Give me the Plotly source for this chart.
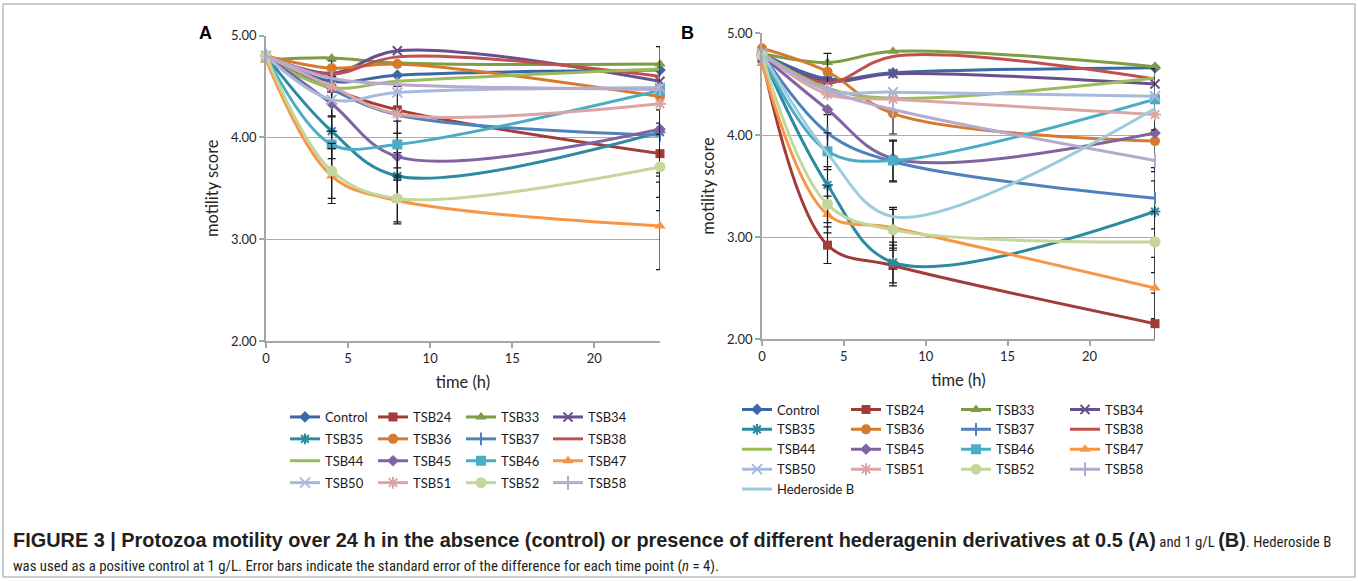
import plotly.graph_objects as go

W, H = 1358, 581

TIME = [0, 4, 8, 24]
X_TICKS = [0, 5, 10, 15, 20]
Y_TICKS = [2, 3, 4, 5]
Y_TICK_TEXT = ["2.00", "3.00", "4.00", "5.00"]

SERIES_A = ["Control", "TSB24", "TSB33", "TSB34", "TSB35", "TSB36", "TSB37", "TSB38",
            "TSB44", "TSB45", "TSB46", "TSB47", "TSB50", "TSB51", "TSB52", "TSB58"]
SERIES_B = SERIES_A + ["Hederoside B"]

# Panel A (0.5 g/L) motility scores at 0, 4, 8, 24 h
A_CONTROL = [4.80, 4.55, 4.61, 4.66]
A_TSB24 = [4.79, 4.48, 4.27, 3.84]
A_TSB33 = [4.76, 4.78, 4.73, 4.72]
A_TSB34 = [4.80, 4.63, 4.85, 4.55]
A_TSB35 = [4.80, 4.06, 3.62, 4.05]
A_TSB36 = [4.80, 4.68, 4.72, 4.40]
A_TSB37 = [4.80, 4.47, 4.22, 4.02]
A_TSB38 = [4.78, 4.62, 4.79, 4.60]
A_TSB44 = [4.78, 4.49, 4.55, 4.67]
A_TSB45 = [4.80, 4.33, 3.81, 4.08]
A_TSB46 = [4.80, 3.93, 3.93, 4.46]
A_TSB47 = [4.76, 3.62, 3.38, 3.13]
A_TSB50 = [4.80, 4.37, 4.44, 4.49]
A_TSB51 = [4.80, 4.50, 4.23, 4.33]
A_TSB52 = [4.80, 3.67, 3.40, 3.71]
A_TSB58 = [4.80, 4.58, 4.52, 4.47]

# Panel B (1 g/L)
B_CONTROL = [4.80, 4.55, 4.61, 4.66]
B_TSB24 = [4.75, 2.92, 2.72, 2.15]
B_TSB33 = [4.80, 4.71, 4.82, 4.67]
B_TSB34 = [4.78, 4.53, 4.60, 4.50]
B_TSB35 = [4.78, 3.51, 2.75, 3.25]
B_TSB36 = [4.85, 4.62, 4.21, 3.94]
B_TSB37 = [4.80, 4.02, 3.74, 3.38]
B_TSB38 = [4.80, 4.51, 4.77, 4.55]
B_TSB44 = [4.80, 4.46, 4.36, 4.56]
B_TSB45 = [4.78, 4.25, 3.77, 4.02]
B_TSB46 = [4.78, 3.84, 3.75, 4.35]
B_TSB47 = [4.70, 3.22, 3.09, 2.50]
B_TSB50 = [4.80, 4.44, 4.42, 4.38]
B_TSB51 = [4.80, 4.40, 4.35, 4.20]
B_TSB52 = [4.78, 3.32, 3.07, 2.95]
B_TSB58 = [4.78, 4.44, 4.25, 3.75]
B_HEDEROSIDE = [4.80, 3.82, 3.20, 4.26]

# standard error of the difference per time point
SED_A = [0, 0.27, 0.23, 0.43]
SED_B = [0, 0.18, 0.20, 0.30]
ERR_SERIES_A = ["TSB24", "TSB35", "TSB45", "TSB46", "TSB47", "TSB52"]
ERR_SERIES_B = ["TSB24", "TSB35", "TSB36", "TSB37", "TSB46", "TSB47", "TSB52"]

VALUES_A = [A_CONTROL, A_TSB24, A_TSB33, A_TSB34, A_TSB35, A_TSB36, A_TSB37, A_TSB38,
            A_TSB44, A_TSB45, A_TSB46, A_TSB47, A_TSB50, A_TSB51, A_TSB52, A_TSB58]
VALUES_B = [B_CONTROL, B_TSB24, B_TSB33, B_TSB34, B_TSB35, B_TSB36, B_TSB37, B_TSB38,
            B_TSB44, B_TSB45, B_TSB46, B_TSB47, B_TSB50, B_TSB51, B_TSB52, B_TSB58,
            B_HEDEROSIDE]

STYLE = {
    "Control": ("#3C69A5", "diamond", 9),
    "TSB24": ("#A23C39", "square", 9),
    "TSB33": ("#7E9C42", "triangle-up", 10),
    "TSB34": ("#68508E", "x-thin-open", 9),
    "TSB35": ("#2E8AA0", "asterisk-open", 9),
    "TSB36": ("#D67B2E", "circle", 10),
    "TSB37": ("#4F81BD", "line-ns-open", 9),
    "TSB38": ("#C0504D", None, 0),
    "TSB44": ("#9BBB59", None, 0),
    "TSB45": ("#8064A2", "diamond", 9),
    "TSB46": ("#4BACC6", "square", 10),
    "TSB47": ("#F79646", "triangle-up", 10),
    "TSB50": ("#A7BADB", "x-thin-open", 10),
    "TSB51": ("#DBA5A4", "asterisk-open", 10),
    "TSB52": ("#C3D69B", "circle", 11),
    "TSB58": ("#B7A8CE", "line-ns-open", 10),
    "Hederoside B": ("#9BCCDC", None, 0),
}

FONT = "Lato"
GRID = "#ABABAB"

fig = go.Figure()


def add_panel(names, values, sed, err_series, xa, ya, legend_ids):
    for i, (name, vals) in enumerate(zip(names, values)):
        color, sym, size = STYLE[name]
        col = i % 4
        tr = dict(
            x=TIME, y=vals, name=name, xaxis=xa, yaxis=ya,
            mode="lines+markers" if sym else "lines",
            line=dict(color=color, width=3, shape="spline", smoothing=1.0),
            legend=legend_ids[col], legendgroup=f"{xa}{name}",
            cliponaxis=False,
        )
        if sym:
            lw = 2 if "open" in sym else 0
            tr["marker"] = dict(symbol=sym, size=size, color=color,
                                line=dict(color=color, width=lw))
        if name in err_series:
            tr["error_y"] = dict(type="data", array=sed, symmetric=True,
                                 color="#1A1A1A", thickness=1.2, width=4)
        fig.add_trace(go.Scatter(**tr))


add_panel(SERIES_A, VALUES_A, SED_A, ERR_SERIES_A, "x", "y",
          ["legend", "legend2", "legend3", "legend4"])
add_panel(SERIES_B, VALUES_B, SED_B, ERR_SERIES_B, "x2", "y2",
          ["legend5", "legend6", "legend7", "legend8"])


def px_x(p):
    return p / W


def px_y(p):
    return 1 - p / H


axis_common = dict(
    showline=True, linecolor="#A6A6A6", linewidth=1.5,
    ticks="outside", ticklen=5, tickcolor="#A6A6A6", tickwidth=1.5,
    tickfont=dict(family=FONT, size=13, color="#262626"),
    zeroline=False,
)
title_font = dict(family=FONT, size=16.5, color="#262626")

xdom_a = [px_x(266), px_x(660)]
xdom_b = [px_x(762), px_x(1155)]
ydom_a = [px_y(341), px_y(35.5)]
ydom_b = [px_y(339), px_y(33)]

fig.update_layout(
    width=W, height=H,
    margin=dict(l=0, r=0, t=0, b=0, autoexpand=False),
    paper_bgcolor="white", plot_bgcolor="white",
    xaxis=dict(domain=xdom_a, range=[0, 24], tickvals=X_TICKS, showgrid=False,
               anchor="y", title=dict(text="time (h)", font=title_font, standoff=11),
               **axis_common),
    yaxis=dict(domain=ydom_a, range=[2, 5], tickvals=Y_TICKS, ticktext=Y_TICK_TEXT,
               showgrid=True, gridcolor=GRID, gridwidth=1.2, anchor="x",
               title=dict(text="motility score", font=title_font, standoff=8),
               **axis_common),
    xaxis2=dict(domain=xdom_b, range=[0, 24], tickvals=X_TICKS, showgrid=False,
                anchor="y2", title=dict(text="time (h)", font=title_font, standoff=11),
                **axis_common),
    yaxis2=dict(domain=ydom_b, range=[2, 5], tickvals=Y_TICKS, ticktext=Y_TICK_TEXT,
                showgrid=True, gridcolor=GRID, gridwidth=1.2, anchor="x2",
                title=dict(text="motility score", font=title_font, standoff=8),
                **axis_common),
)

# legends: 4 columns per panel
leg_cols_a = [292, 380, 468, 555]
leg_cols_b = [744, 853, 963, 1072]
for k, cx in enumerate(leg_cols_a):
    key = "legend" if k == 0 else f"legend{k + 1}"
    fig.update_layout({key: dict(x=px_x(cx - 7), y=px_y(402), xanchor="left", yanchor="top",
                                 bgcolor="rgba(0,0,0,0)", borderwidth=0, tracegroupgap=2,
                                 itemwidth=30,
                                 font=dict(family=FONT, size=13, color="#1A1A1A"))})
for k, cx in enumerate(leg_cols_b):
    key = f"legend{k + 5}"
    fig.update_layout({key: dict(x=px_x(cx - 7), y=px_y(394.5), xanchor="left", yanchor="top",
                                 bgcolor="rgba(0,0,0,0)", borderwidth=0, tracegroupgap=0,
                                 itemwidth=30,
                                 font=dict(family=FONT, size=13, color="#1A1A1A"))})

CAP_FONT = "Liberation Sans"
COND = "Roboto Condensed, Roboto"
NARROW = f"font-family:{COND};font-size:14.8px"
annotations = [
    dict(text="<b>A</b>", x=px_x(205), y=px_y(33), xref="paper", yref="paper",
         xanchor="center", yanchor="middle",
         showarrow=False, font=dict(family=CAP_FONT, size=18, color="black")),
    dict(text="<b>B</b>", x=px_x(687), y=px_y(33), xref="paper", yref="paper",
         xanchor="center", yanchor="middle",
         showarrow=False, font=dict(family=CAP_FONT, size=18, color="black")),
    dict(text="<b>FIGURE 3 | Protozoa motility over 24 h in the absence (control) or presence of different "
              "hederagenin derivatives at 0.5 (A)</b>"
              f"<span style='{NARROW}'> and 1 g/L </span><b>(B)</b>"
              f"<span style='{NARROW}'>. Hederoside B</span>",
         x=px_x(11), y=px_y(540), xref="paper", yref="paper", xanchor="left", yanchor="middle",
         showarrow=False, font=dict(family=CAP_FONT, size=19.9, color="#231F20")),
    dict(text="was used as a positive control at 1 g/L. Error bars indicate the "
              "standard error of the difference for each time point (<i>n</i> = 4).",
         x=px_x(11), y=px_y(566), xref="paper", yref="paper", xanchor="left", yanchor="middle",
         showarrow=False, font=dict(family=COND, size=14.8, color="#231F20")),
]
fig.update_layout(annotations=annotations)

fig.add_shape(type="rect", xref="paper", yref="paper",
              x0=px_x(3), x1=px_x(1355), y0=px_y(577), y1=px_y(4),
              line=dict(color="#9A9A9A", width=1))

fig.write_html("out.html", config={"displayModeBar": False},
               post_script="document.body.style.margin='0';document.body.style.overflow='hidden';")
